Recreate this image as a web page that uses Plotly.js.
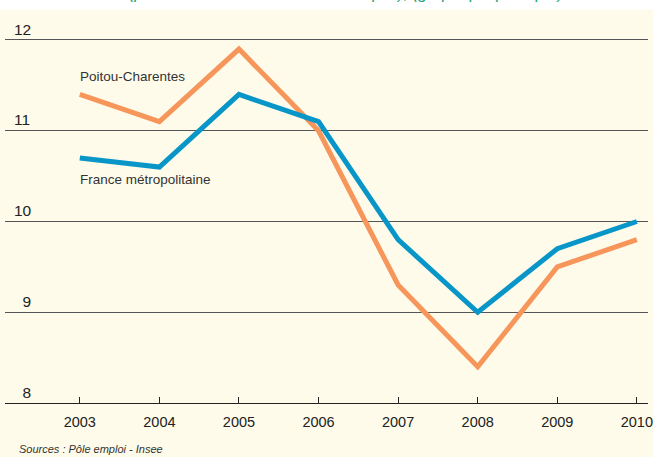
<!DOCTYPE html>
<html>
<head>
<meta charset="utf-8">
<script src="https://cdn.plot.ly/plotly-3.0.1.min.js"></script>
<style>html,body{margin:0;padding:0;background:#fff;}#chart{width:653px;height:457px;}</style>
</head>
<body>
<div id="chart"></div>
<script>
var years = [2003, 2004, 2005, 2006, 2007, 2008, 2009, 2010];
var poitou = [11.4, 11.1, 11.9, 11.0, 9.3, 8.4, 9.5, 9.8];
var france = [10.7, 10.6, 11.4, 11.1, 9.8, 9.0, 9.7, 10.0];
var yTickVals = [8, 9, 10, 11, 12];
var yTickText = ["8", "9", "10", "11", "12"];
var seriesNames = ["Poitou-Charentes", "France métropolitaine"];
var titleText = "(pour 1000 actifs de la zone d'emploi), (graphique principal)";
var sourceText = "Sources : Pôle emploi - Insee";

var FONT = "Liberation Sans, Arial, sans-serif";
var traces = [
  {x: years, y: poitou, name: seriesNames[0], mode: "lines", type: "scatter",
   line: {color: "#F7965A", width: 5}},
  {x: years, y: france, name: seriesNames[1], mode: "lines", type: "scatter",
   line: {color: "#0896C8", width: 5}}
];
var layout = {
  width: 653, height: 457,
  margin: {l: 5, r: 5, t: 37, b: 54},
  paper_bgcolor: "#FEFBEA",
  plot_bgcolor: "#FEFBEA",
  showlegend: false,
  font: {family: FONT, color: "#222"},
  xaxis: {range: [2002.06, 2010.14], tickvals: years, ticktext: years.map(String),
          showgrid: false, zeroline: false, showline: true, linecolor: "#222", linewidth: 1,
          ticks: "inside", ticklen: 6, tickcolor: "#222", tickfont: {size: 14.5, color: "#222"},
          ticklabelstandoff: 6, fixedrange: true},
  yaxis: {range: [8, 12.033], tickvals: yTickVals,
          ticktext: yTickText.map(function(t){ return t.length < 2 ? "\u2007" + t : t; }),
          showgrid: true, gridcolor: "#555", gridwidth: 1, zeroline: false, showline: false,
          ticks: "", ticklabelposition: "inside top", ticklabeloverflow: "allow",
          tickfont: {size: 15.5, color: "#222"},
          ticklabelstandoff: 6, fixedrange: true},
  shapes: [
    {type: "rect", xref: "paper", yref: "paper", x0: -0.02, x1: 1.02, y0: 1.075, y1: 1.2,
     fillcolor: "#ffffff", line: {width: 0}, layer: "below"}
  ],
  annotations: [
    {text: titleText, xref: "paper", yref: "paper", x: 0.53, y: 1, xanchor: "center", yanchor: "bottom",
     yshift: 33, showarrow: false, font: {size: 16.5, color: "#1AA37A", style: "italic"}},
    {text: seriesNames[0], xref: "x", yref: "y", x: 2003, y: 11.6, xanchor: "left", yanchor: "middle",
     showarrow: false, xshift: -2, font: {size: 13.5, color: "#333"}},
    {text: seriesNames[1], xref: "x", yref: "y", x: 2003, y: 10.46, xanchor: "left", yanchor: "middle",
     showarrow: false, xshift: -2, font: {size: 13.5, color: "#333"}},
    {text: sourceText, xref: "paper", yref: "paper", x: 0.018, y: -0.125, xanchor: "left", yanchor: "middle",
     showarrow: false, font: {size: 11, color: "#333", style: "italic"}}
  ]
};
Plotly.newPlot("chart", traces, layout, {displayModeBar: false, staticPlot: true});
</script>
</body>
</html>
